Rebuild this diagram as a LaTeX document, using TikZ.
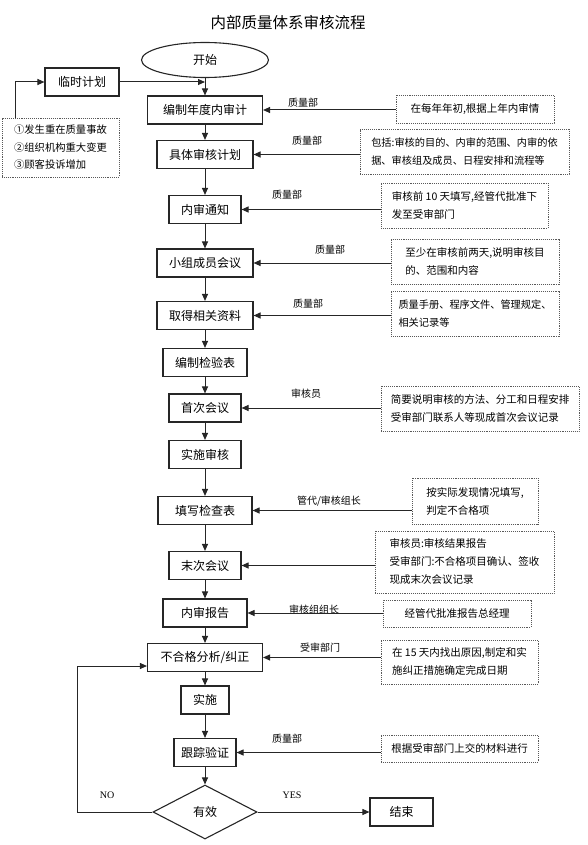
\documentclass[tikz,border=0pt]{standalone}
\usepackage{fontspec}
\setmainfont{Noto Sans CJK SC}
\newfontfamily\latinserif{Liberation Serif}
\usetikzlibrary{arrows.meta,shapes.geometric}
\tikzset{
  box/.style={draw=black!85,line width=1.1pt,fill=white,font=\fontsize{12}{14}\selectfont,minimum height=28pt,inner xsep=12pt,inner ysep=3pt},
  note/.style={draw=black!65,densely dotted,line width=0.9pt,align=left,font=\fontsize{10.5}{18}\selectfont,inner xsep=6pt,inner ysep=3pt},
  lab/.style={font=\fontsize{10}{12}\selectfont,inner sep=1pt},
  yn/.style={font=\latinserif\fontsize{10}{12}\selectfont,inner sep=1pt},
  arr/.style={line width=1pt,draw=black!85,-{Triangle[length=7pt,width=6pt]}}
}
\begin{document}
\begin{tikzpicture}[x=1pt,y=-1pt]
\useasboundingbox (0,0) rectangle (588,845);
\node[font=\fontsize{15.5}{18}\selectfont] (title) at (288,23){内部质量体系审核流程};
\node[draw=black!85,line width=1.1pt,ellipse,minimum width=127pt,minimum height=35pt,font=\fontsize{12}{14}\selectfont] (start) at (205,60){开始};
\node[box,minimum width=74pt] (tmp) at (82,82){临时计划};
\node[note,minimum width=117pt,minimum height=59pt,font=\fontsize{10.3}{17.5}\selectfont] (cause) at (60.5,147.5){①发生重在质量事故\\②组织机构重大变更\\③顾客投诉增加};
\node[box,minimum width=115pt] (m1) at (205,110){编制年度内审计};
\node[box] (m2) at (205,154.5){具体审核计划};
\node[box] (m3) at (205,209.5){内审通知};
\node[box] (m4) at (205,263){小组成员会议};
\node[box] (m5) at (205,315.5){取得相关资料};
\node[box] (m6) at (205,362.5){编制检验表};
\node[box] (m7) at (205,408){首次会议};
\node[box] (m8) at (205,454.5){实施审核};
\node[box,minimum width=94pt] (m9) at (205,510.5){填写检查表};
\node[box] (m10) at (205,565.5){末次会议};
\node[box,minimum width=84pt] (m11) at (205,613){内审报告};
\node[box,minimum width=115pt] (m12) at (205,657.5){不合格分析/纠正};
\node[box] (m13) at (205,700){实施};
\node[box,inner xsep=7pt] (m14) at (205,752.5){跟踪验证};
\node[draw=black!85,line width=1.1pt,diamond,minimum width=104pt,minimum height=54pt,inner sep=0pt,font=\fontsize{12}{14}\selectfont] (dec) at (205,812){有效};
\node[box,minimum width=63pt] (end) at (401.5,812){结束};
\node[note,minimum width=158pt,minimum height=28pt] (n1) at (475,109){在每年年初,根据上年内审情};
\node[note,minimum width=209pt,minimum height=45pt,font=\fontsize{10.2}{18}\selectfont] (n2) at (464.5,151.5){包括:审核的目的、内审的范围、内审的依\\据、审核组及成员、日程安排和流程等};
\node[note,minimum width=167pt,minimum height=45pt] (n3) at (464.5,205.5){审核前 10 天填写,经管代批准下\\发至受审部门};
\node[note,minimum width=168pt,minimum height=45pt] (n4) at (475,261.5){至少在审核前两天,说明审核目\\的、范围和内容};
\node[note,minimum width=168pt,minimum height=45pt,font=\fontsize{10.2}{18}\selectfont] (n5) at (475,313.5){质量手册、程序文件、管理规定、\\相关记录等};
\node[note,minimum width=198pt,minimum height=45pt] (n6) at (480,408.5){简要说明审核的方法、分工和日程安排\\受审部门联系人等现成首次会议记录};
\node[note,minimum width=126pt,minimum height=46pt] (n7) at (475,501){按实际发现情况填写,\\判定不合格项};
\node[note,minimum width=179pt,minimum height=62pt] (n8) at (464.5,562){审核员:审核结果报告\\受审部门:不合格项目确认、签收\\现成末次会议记录};
\node[note,minimum width=148pt,minimum height=27pt] (n9) at (457,613.5){经管代批准报告总经理};
\node[note,minimum width=157pt,minimum height=44pt] (n10) at (459.5,662){在 15 天内找出原因,制定和实\\施纠正措施确定完成日期};
\node[note,minimum width=157pt,minimum height=27pt] (n11) at (459.5,748.5){根据受审部门上交的材料进行};
\node[lab] (l1) at (303,103){质量部};
\node[lab] (l2) at (307,141){质量部};
\node[lab] (l3) at (287,195){质量部};
\node[lab] (l4) at (330,250){质量部};
\node[lab] (l5) at (308,304){质量部};
\node[lab] (l6) at (306,394){审核员};
\node[lab] (l7) at (329,501){管代/审核组长};
\node[lab] (l8) at (314,610){审核组组长};
\node[lab] (l9) at (320,648){受审部门};
\node[lab] (l10) at (287,739){质量部};
\node[yn] (no) at (107,795){NO};
\node[yn] (yes) at (292,795){YES};
\draw[arr] ([xshift=14pt]cause.north west) |- (tmp.west);
\draw[arr] (tmp.east) -- (tmp.east -| start.south);
\draw[arr] (start) -- (m1);
\draw[arr] (m1) -- (m2);
\draw[arr] (m2) -- (m3);
\draw[arr] (m3) -- (m4);
\draw[arr] (m4) -- (m5);
\draw[arr] (m5) -- (m6);
\draw[arr] (m6) -- (m7);
\draw[arr] (m7) -- (m8);
\draw[arr] (m8) -- (m9);
\draw[arr] (m9) -- (m10);
\draw[arr] (m10) -- (m11);
\draw[arr] (m11) -- (m12);
\draw[arr] (m12) -- (m13);
\draw[arr] (m13) -- (m14);
\draw[arr] (m14) -- (dec);
\draw[arr] (dec) -- (end);
\draw[arr] (dec.west) -- ++(-75,0) |- ([yshift=-8.5pt]m12.west);
\draw[arr] (n1.west |- m1) -- (m1);
\draw[arr] (n2.west |- m2) -- (m2);
\draw[arr] (n3.west |- m3) -- (m3);
\draw[arr] (n4.west |- m4) -- (m4);
\draw[arr] (n5.west |- m5) -- (m5);
\draw[arr] (n6.west |- m7) -- (m7);
\draw[arr] (n7.west |- m9) -- (m9);
\draw[arr] (n8.west |- m10) -- (m10);
\draw[arr] (n9.west |- m11) -- (m11);
\draw[arr] (n10.west |- m12) -- (m12);
\draw[arr] (n11.west |- m14) -- (m14);
\end{tikzpicture}
\end{document}
